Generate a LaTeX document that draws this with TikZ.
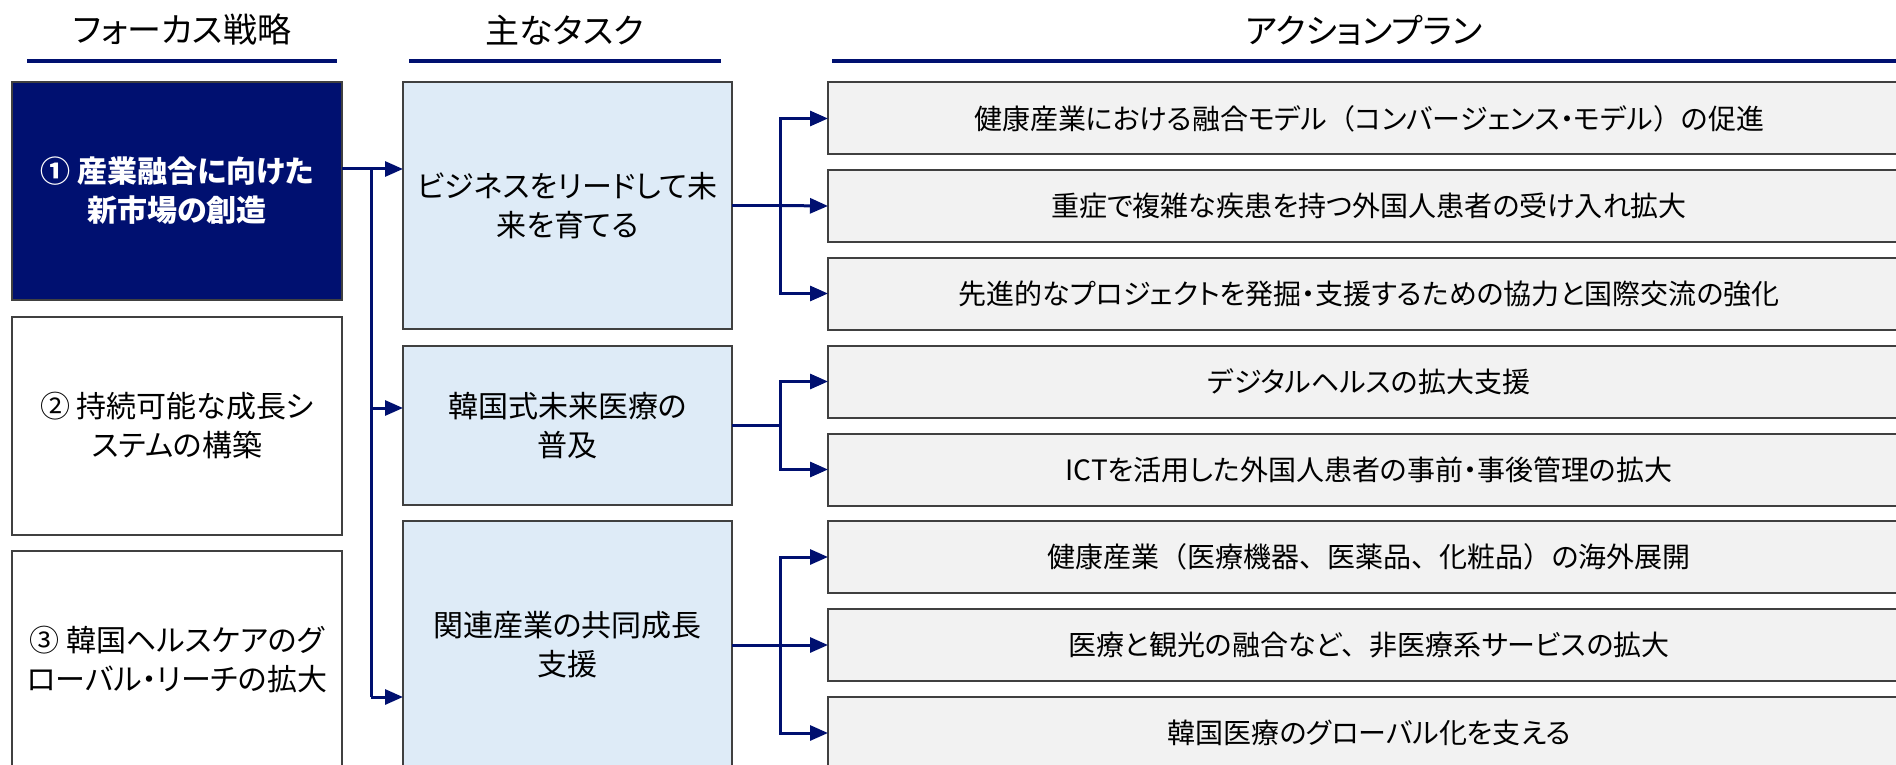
\documentclass[tikz,border=0pt]{standalone}
\usepackage{fontspec}
\setmainfont{Noto Sans CJK JP}[RawFeature=+palt]
\newfontfamily\fw{Noto Sans CJK JP}
\usetikzlibrary{arrows.meta}
\definecolor{navy}{RGB}{0,16,112}
\definecolor{midblue}{RGB}{222,235,247}
\definecolor{rgray}{RGB}{242,242,242}
\definecolor{bordergray}{RGB}{64,64,64}
\begin{document}
\begin{tikzpicture}[x=1pt,y=-1pt,
  box/.style={draw=bordergray, line width=2pt, inner sep=0pt, outer sep=0pt, align=center},
  lbox/.style={box, minimum width=330pt, minimum height=218pt, font=\fontsize{30}{39}\selectfont},
  mbox/.style={box, fill=midblue, minimum width=329pt, font=\fontsize{30}{39}\selectfont},
  rbox/.style={box, fill=rgray, minimum width=1082pt, minimum height=72pt, font=\fontsize{28}{34}\selectfont},
  head/.style={inner sep=0pt, font=\fontsize{34}{40}\selectfont},
  uline/.style={draw=navy, line width=3.5pt},
  conn/.style={draw=navy, line width=3pt},
  arr/.style={conn, -{Triangle[length=18pt,width=15pt]}}
]
\useasboundingbox (0,0) rectangle (1896,765);

% headings
\node[head] (h1) at (182,30) {フォーカス戦略};
\node[head] (h2) at (565,30) {主なタスク};
\node[head] (h3) at (1364,30) {アクションプラン};
\coordinate (u1a) at (27,61); \coordinate (u1b) at (337,61);
\coordinate (u2a) at (409,61); \coordinate (u2b) at (721,61);
\coordinate (u3a) at (832,61); \coordinate (u3b) at (1900,61);
\draw[uline] (u1a) -- (u1b);
\draw[uline] (u2a) -- (u2b);
\draw[uline] (u3a) -- (u3b);

% left column
\node[lbox, fill=navy, text=white] (L1) at (177,191) {\bfseries ① 産業融合に向けた\\\bfseries 新市場の創造};
\node[lbox, fill=white] (L2) at (177,425.5) {② 持続可能な成長シ\\ステムの構築};
\node[lbox, fill=white] (L3) at (177,660) {③ 韓国ヘルスケアのグ\\ローバル・リーチの拡大};

% middle column
\node[mbox, minimum height=247pt] (M1) at (567.5,205.5) {ビジネスをリードして未\\来を育てる};
\node[mbox, minimum height=159pt] (M2) at (567.5,425.5) {韓国式未来医療の\\普及};
\node[mbox, minimum height=248pt] (M3) at (567.5,645) {関連産業の共同成長\\支援};

% right column
\node[rbox] (R1) at (1369,118.5) {健康産業における融合モデル{\fw （}コンバージェンス・モデル{\fw ）}の促進};
\node[rbox] (R2) at (1369,206) {重症で複雑な疾患を持つ外国人患者の受け入れ拡大};
\node[rbox] (R3) at (1369,293.5) {先進的なプロジェクトを発掘・支援するための協力と国際交流の強化};
\node[rbox] (R4) at (1369,381.5) {デジタルヘルスの拡大支援};
\node[rbox] (R5) at (1369,469.5) {ICTを活用した外国人患者の事前・事後管理の拡大};
\node[rbox] (R6) at (1369,557) {健康産業{\fw （}医療機器{\fw 、}医薬品{\fw 、}化粧品{\fw ）}の海外展開};
\node[rbox] (R7) at (1369,645) {医療と観光の融合など{\fw 、}非医療系サービスの拡大};
\node[rbox] (R8) at (1369,733) {韓国医療のグローバル化を支える};

% left -> middle connectors
\coordinate (j1) at (371,169);
\coordinate (j2) at (371,408);
\coordinate (j3) at (371,697);
\draw[arr] (L1.east |- j1) -- (M1.west |- j1);
\draw[conn] (j1) -- (j3);
\draw[arr] (j2) -- (M2.west |- j2);
\draw[arr] (j3) -- (M3.west |- j3);

% middle -> right connectors
\coordinate (b1) at (780,205.5);
\coordinate (b2) at (780,425.5);
\coordinate (b3) at (780,645);
\draw[arr] (M1.east) -- (b1) |- (R1.west);
\draw[arr] (b1) -- (R2.west);
\draw[arr] (b1) |- (R3.west);
\draw[arr] (M2.east) -- (b2) |- (R4.west);
\draw[arr] (b2) |- (R5.west);
\draw[arr] (M3.east) -- (b3) |- (R6.west);
\draw[arr] (b3) -- (R7.west);
\draw[arr] (b3) |- (R8.west);
\end{tikzpicture}
\end{document}
